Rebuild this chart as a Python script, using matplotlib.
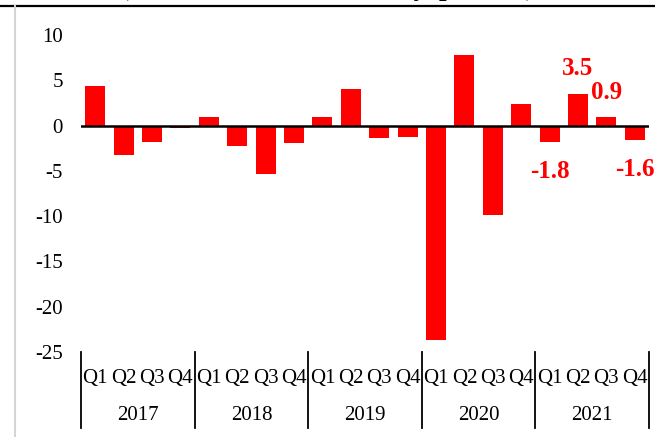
import matplotlib
matplotlib.use("Agg")
import matplotlib.pyplot as plt
from matplotlib.lines import Line2D

plt.rcParams['font.family'] = ['Liberation Serif', 'DejaVu Serif']

years = ["2017", "2018", "2019", "2020", "2021"]
quarters = ["Q1", "Q2", "Q3", "Q4"]
values = [4.4, -3.2, -1.8, -0.3,
          0.9, -2.3, -5.4, -1.9,
          1.0, 4.0, -1.4, -1.3,
          -23.7, 7.8, -9.9, 2.4,
          -1.8, 3.5, 0.9, -1.6]
labeled_idx = [16, 17, 18, 19]
yticks = [10, 5, 0, -5, -10, -15, -20, -25]
title = "(Real Growth Rate, Yearly, percent)"

W, H = 655, 437
fig = plt.figure(figsize=(W / 100, H / 100), dpi=100)
fig.patch.set_facecolor('white')

L, R, T, B = 81, 649, 35, 352
ax = fig.add_axes([L / W, 1 - B / H, (R - L) / W, (B - T) / H])

x = list(range(len(values)))
ax.bar(x, values, width=0.7, color='#ff0000', zorder=2)
ax.axhline(0, color='black', lw=1.8, zorder=3)
ax.set_xlim(-0.5, len(values) - 0.5)
ax.set_ylim(-25, 10)
ax.set_yticks(yticks)
ax.set_yticklabels([str(t) for t in yticks], fontsize=15)
ax.tick_params(axis='y', length=0, pad=13)
ax.set_xticks([])
for s in ax.spines.values():
    s.set_visible(False)

# data labels
for i in labeled_idx:
    v = values[i]
    off = 18 if v > 0 else -21
    ax.annotate(f"{v:.1f}", (i, v), xytext=(0, off), textcoords='offset points',
                ha='center', va='center',
                color='#ff0000', fontsize=18, fontweight='bold', annotation_clip=False)

# category axis
tr = ax.get_xaxis_transform()
sep_bottom = -(428 - B) / (B - T)
q_y = -(378 - B) / (B - T)
y_y = -(415 - B) / (B - T)
for k in range(len(years) + 1):
    xs = k * 4 - 0.5
    ax.plot([xs, xs], [0, sep_bottom], color='black', lw=1.3, transform=tr, clip_on=False)
for i in x:
    ax.text(i, q_y, quarters[i % 4], transform=tr, ha='center', va='center', fontsize=15)
for k, yr in enumerate(years):
    ax.text(k * 4 + 1.5, y_y, yr, transform=tr, ha='center', va='center', fontsize=15)

# decorative frame elements
fig.add_artist(Line2D([0, 1], [1 - 5.5 / H, 1 - 5.5 / H], color='black', lw=1.6, transform=fig.transFigure))
fig.add_artist(Line2D([15 / W, 15 / W], [0, 1 - 6 / H], color='#d4d4d4', lw=1.5, transform=fig.transFigure))
fig.text(120 / W, 1 + 5.5 / H, title, ha='left', va='baseline',
         fontsize=19.5, fontweight='bold')

fig.savefig("out.png", dpi=100)
